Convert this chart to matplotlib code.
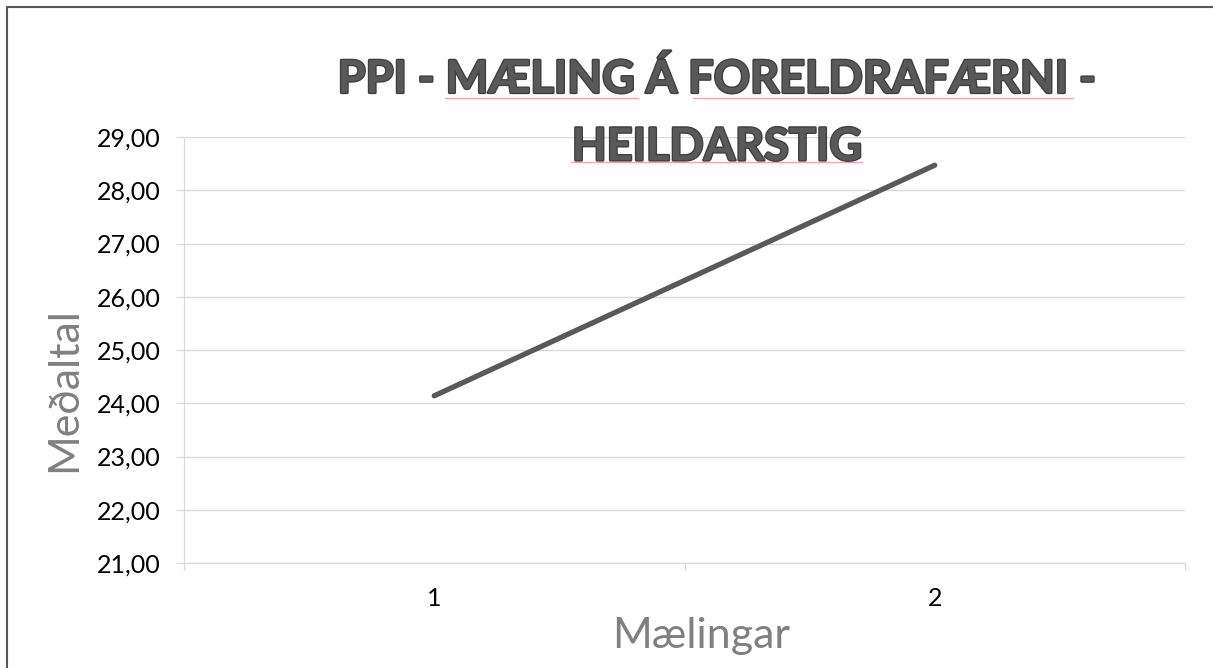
import matplotlib
matplotlib.use("Agg")
import matplotlib.pyplot as plt
import matplotlib.patheffects as pe
from matplotlib.patches import Rectangle
from matplotlib.lines import Line2D

# data
categories = ["1", "2"]
values = [24.14, 28.47]
y_ticks = [21, 22, 23, 24, 25, 26, 27, 28, 29]
y_tick_labels = ["%d,00" % v for v in y_ticks]

W, H = 1213, 668
plt.rcParams['font.family'] = ['Lato', 'DejaVu Sans']

fig = plt.figure(figsize=(W / 100, H / 100), dpi=100)
ax = fig.add_axes([184/W, 1 - 563/H, (1185 - 184)/W, (563 - 137)/H])

x = [1, 2]
ax.plot(x, values, color="#595959", lw=3.8, solid_capstyle="round", zorder=3)

ax.set_xlim(0.5, 2.5)
ax.set_ylim(21, 29)
ax.set_yticks(y_ticks)
ax.set_yticklabels(y_tick_labels, fontsize=18, color="black")
ax.set_xticks(x)
ax.set_xticklabels(categories, fontsize=18, color="black")
ax.set_xticks([0.5, 1.5, 2.5], minor=True)
ax.tick_params(axis="x", which="major", length=0, pad=17)
ax.tick_params(axis="x", which="minor", length=5, color="#d9d9d9", width=1)
ax.tick_params(axis="y", length=6, color="#d9d9d9", width=1, pad=11)

ax.grid(axis="y", color="#d9d9d9", lw=1)
ax.set_axisbelow(True)
for s in ["top", "right"]:
    ax.spines[s].set_visible(False)
ax.spines["left"].set_color("#d9d9d9")
ax.spines["bottom"].set_color("#d9d9d9")

# axis titles
fig.text(64/W, 1 - 390/H, "Meðaltal", rotation=90, ha="center", va="center",
         fontsize=31, color="#808080")
fig.text(701/W, 1 - 636/H, "Mælingar", ha="center", va="center",
         fontsize=31, color="#808080")

title = fig.text(717/W, 1 - 113/H, "PPI - MÆLING Á FORELDRAFÆRNI -\nHEILDARSTIG",
                 ha="center", va="center", fontsize=32.5, fontweight="bold",
                 color="#595959", linespacing=1.75)
title.set_path_effects([pe.withStroke(linewidth=2, foreground="#404040")])

# spell-check underlines under title words
for x0, x1, yy in [(445, 638, 98), (693, 1073, 98), (571, 862, 162)]:
    fig.add_artist(Line2D([x0/W, x1/W], [1 - yy/H, 1 - yy/H], transform=fig.transFigure,
                          color="#f4a6a6", lw=0.9))

# chart border
fig.patches.append(Rectangle((7/W, -0.02), (W + 20)/W, 1 - 7/H + 0.02,
                             transform=fig.transFigure, fill=False,
                             edgecolor="#595959", lw=1.5))

fig.savefig("out.png", dpi=100)
